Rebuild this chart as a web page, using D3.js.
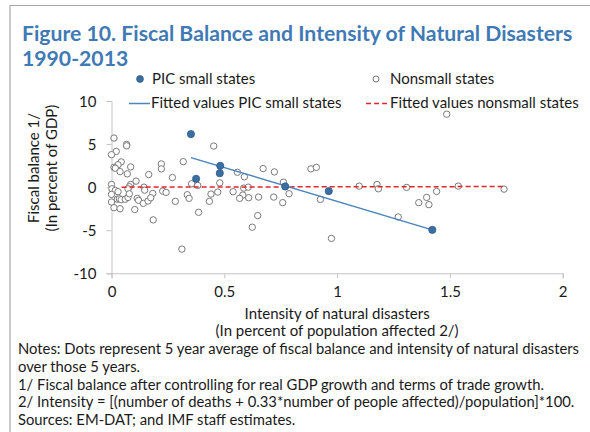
<!DOCTYPE html>
<html>
<head>
<meta charset="utf-8">
<script src="https://cdn.jsdelivr.net/npm/d3@7"></script>
<style>
  html, body { margin: 0; padding: 0; background: #fff; }
  svg { display: block; }
  text { font-family: Lato, "Noto Sans", sans-serif; fill: #1a1a1a; }
</style>
</head>
<body>
<svg id="chart" width="590" height="432"></svg>
<script>
// PIC small states: intensity of natural disasters (x) and fiscal balance (y)
const picX = [0.352, 0.375, 0.480, 0.482, 0.770, 0.963, 1.422];
const picY = [6.16, 0.97, 1.62, 2.47, 0.08, -0.46, -4.96];

// Nonsmall states
const nonsmallX = [
  0.011, 0.067, 0.067, 0.021, 0.000, 0.043, 0.029, 0.011, 0.017, 0.038,
  0.070, 0.085, 0.165, 0.221, 0.221, 0.109, 0.085, 0.079, 0.073, 0.000,
  0.002, 0.017, 0.029, 0.000, 0.144, 0.147, 0.183, 0.227, 0.026, 0.035,
  0.043, 0.061, 0.073, 0.079, 0.000, 0.011, 0.038, 0.114, 0.120, 0.141,
  0.162, 0.174, 0.103, 0.185, 0.453, 0.318, 0.270, 0.355, 0.382, 0.480,
  0.242, 0.336, 0.344, 0.283, 0.441, 0.471, 0.434, 0.386, 0.312, 0.558,
  0.589, 0.672, 0.722, 0.884, 0.539, 0.586, 0.606, 0.762, 0.582, 0.568,
  0.608, 0.652, 0.719, 0.787, 0.759, 0.648, 0.624, 0.908, 0.926, 1.098,
  1.177, 1.183, 0.975, 1.486, 1.308, 1.537, 1.740, 1.441, 1.397, 1.362,
  1.407, 1.271
];
const nonsmallY = [
  5.70, 4.96, 4.80, 4.15, 3.77, 2.93, 2.60, 2.30, 2.20, 1.80,
  1.54, 2.35, 1.46, 2.70, 2.12, 0.70, 0.31, 0.05, -0.19, 0.31,
  -0.19, -0.38, -0.53, -0.84, 0.00, -0.35, -0.73, -0.46, -1.40, -1.35,
  -1.45, -1.40, -1.20, -0.77, -1.73, -2.38, -2.50, -1.30, -1.53, -1.88,
  -1.61, -1.23, -2.60, -3.80, 4.77, 2.96, 1.12, 0.39, 0.20, 0.50,
  -0.61, -0.88, -1.30, -1.65, -0.80, -0.57, -1.65, -2.92, -7.19, 1.73,
  1.20, 2.16, 1.77, 2.12, -0.53, -0.11, 0.00, 0.58, -0.92, -1.30,
  -1.23, -1.15, -1.15, -0.76, -1.80, -3.30, -4.65, 2.30, -1.42, 0.12,
  0.31, -0.19, -5.95, 8.47, -0.03, 0.12, -0.23, -0.50, -1.19, -1.80,
  -2.03, -3.46
];

// Fitted lines: [intercept, slope] and the x span each covers
const picFitCoef = [6.19, -7.84];
const nonsmallFitCoef = [0.0, 0.04];
const nonsmallFitSpan = [0.045, 1.74];

const xTicks = [0, 0.5, 1, 1.5, 2];
const yTicks = [-10, -5, 0, 5, 10];

const titleLines = ["Figure 10. Fiscal Balance and Intensity of Natural Disasters", "1990-2013"];
const yTitleLines = ["Fiscal balance 1/", "(In percent of GDP)"];
const xTitleLines = ["Intensity of natural disasters", "(In percent of population affected 2/)"];
const notes = [
  "Notes: Dots represent 5 year average of fiscal balance and intensity of natural disasters",
  "over those 5 years.",
  "1/ Fiscal balance after controlling for real GDP growth and terms of trade growth.",
  "2/ Intensity = [(number of deaths + 0.33*number of people affected)/population]*100.",
  "Sources: EM-DAT; and IMF staff estimates."
];
const legendLabels = ["PIC small states", "Nonsmall states", "Fitted values PIC small states", "Fitted values nonsmall states"];

const picFill = "#3b6fa4", picStroke = "#2d5a88";
const fitBlue = "#4a84bd", fitRed = "#e8222a";
const axisColor = "#c4c4c4";
const fontSize = 15;

const svg = d3.select("#chart");

// frame
svg.append("path")
  .attr("d", "M10,440 V5.5 H600")
  .attr("fill", "none").attr("stroke", "#a8a8a8").attr("stroke-width", 1.2);

// title
svg.append("g").selectAll("text").data(titleLines).join("text")
  .attr("x", 22).attr("y", (d, i) => 40.5 + i * 25)
  .attr("font-size", 21.2).attr("font-weight", 700)
  .style("fill", "#3f7ab5")
  .text(d => d);

const x = d3.scaleLinear().domain([0, 2]).range([111.5, 562.7]);
const y = d3.scaleLinear().domain([-10, 10]).range([273.3, 101]);

// axes
const xAxis = svg.append("g").attr("transform", `translate(0,${y(-10)})`)
  .call(d3.axisBottom(x).tickValues(xTicks).tickSize(5).tickPadding(8).tickFormat(d3.format("")));
const yAxis = svg.append("g").attr("transform", `translate(${x(0)},0)`)
  .call(d3.axisLeft(y).tickValues(yTicks).tickSize(5).tickPadding(10).tickFormat(d => d));
[xAxis, yAxis].forEach(g => {
  g.select(".domain").attr("stroke", axisColor);
  g.selectAll(".tick line").attr("stroke", axisColor);
  g.selectAll(".tick text").attr("font-size", fontSize).attr("font-family", "Lato, sans-serif").attr("fill", "#1a1a1a");
});
yAxis.selectAll(".tick text").attr("dy", "0.35em");

// axis titles
svg.append("g").attr("transform", "translate(0,168) rotate(-90)")
  .selectAll("text").data(yTitleLines).join("text")
  .attr("x", 0).attr("y", (d, i) => 39 + i * 18)
  .attr("text-anchor", "middle").attr("font-size", fontSize)
  .text(d => d);

svg.append("g").selectAll("text").data(xTitleLines).join("text")
  .attr("x", (x(0) + x(2)) / 2).attr("y", (d, i) => 319 + i * 17)
  .attr("text-anchor", "middle").attr("font-size", fontSize)
  .text(d => d);

// nonsmall points
const nonsmall = nonsmallX.map((v, i) => [v, nonsmallY[i]]);
svg.append("g").selectAll("circle").data(nonsmall).join("circle")
  .attr("cx", d => x(d[0])).attr("cy", d => y(d[1])).attr("r", 3.2)
  .attr("fill", "#fff").attr("stroke", "#7a7a7a").attr("stroke-width", 1);

// fitted lines
const line = d3.line().x(d => x(d[0])).y(d => y(d[1]));
const nsFit = nonsmallFitSpan.map(v => [v, nonsmallFitCoef[0] + nonsmallFitCoef[1] * v]);
svg.append("path").attr("d", line(nsFit))
  .attr("fill", "none").attr("stroke", fitRed).attr("stroke-width", 1.5).attr("stroke-dasharray", "5,3");
const picSpan = d3.extent(picX);
const picFit = picSpan.map(v => [v, picFitCoef[0] + picFitCoef[1] * v]);
svg.append("path").attr("d", line(picFit))
  .attr("fill", "none").attr("stroke", fitBlue).attr("stroke-width", 1.5);

// PIC points
const pic = picX.map((v, i) => [v, picY[i]]);
svg.append("g").selectAll("circle").data(pic).join("circle")
  .attr("cx", d => x(d[0])).attr("cy", d => y(d[1])).attr("r", 3.6)
  .attr("fill", picFill).attr("stroke", picStroke).attr("stroke-width", 0.8);

// legend
const leg = svg.append("g");
leg.append("circle").attr("cx", 140).attr("cy", 79).attr("r", 3.4).attr("fill", picFill).attr("stroke", picStroke).attr("stroke-width", 0.8);
leg.append("circle").attr("cx", 376).attr("cy", 79).attr("r", 3).attr("fill", "#fff").attr("stroke", "#7a7a7a");
leg.append("line").attr("x1", 129).attr("x2", 150).attr("y1", 103.5).attr("y2", 103.5).attr("stroke", fitBlue).attr("stroke-width", 1.5);
leg.append("line").attr("x1", 366).attr("x2", 390).attr("y1", 103.5).attr("y2", 103.5).attr("stroke", fitRed).attr("stroke-width", 1.5).attr("stroke-dasharray", "5,3");
const legPos = [[152, 84], [390, 84], [151, 108], [390, 108]];
leg.selectAll("text").data(legendLabels).join("text")
  .attr("x", (d, i) => legPos[i][0]).attr("y", (d, i) => legPos[i][1])
  .attr("font-size", fontSize).text(d => d);

// notes
svg.append("g").selectAll("text").data(notes).join("text")
  .attr("x", 18).attr("y", (d, i) => 354 + i * 17.8)
  .attr("font-size", 14.8).text(d => d);
</script>
</body>
</html>
